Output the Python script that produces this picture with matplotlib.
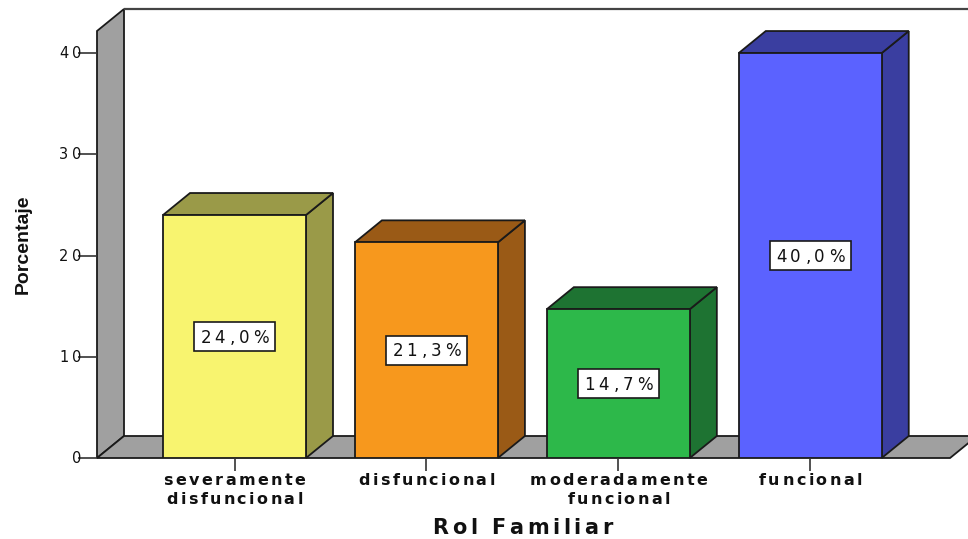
import matplotlib
matplotlib.use("Agg")
import matplotlib.pyplot as plt
from matplotlib.patches import Polygon, Rectangle
from matplotlib.font_manager import FontProperties, findfont, get_font
from matplotlib.transforms import Affine2D, ScaledTranslation

# === Data ===
categories = ["severamente\ndisfuncional", "disfuncional",
              "moderadamente\nfuncional", "funcional"]
porcentajes = [24.0, 21.3, 14.7, 40.0]
etiquetas = ["24,0%", "21,3%", "14,7%", "40,0%"]
y_ticks = [0, 10, 20, 30, 40]

front_colors = ["#F8F46F", "#F7981D", "#2DB84A", "#5B62FF"]
side_colors = ["#9A9A48", "#9A5A16", "#1E7332", "#3A3EA0"]
WALL = "#A0A0A0"
EDGE = "#1a1a1a"
WIDE = ["DejaVu Sans"]
ARIAL = ["Liberation Sans", "DejaVu Sans"]

# === Layout (3D look) ===
XMIN, XMAX = -0.7165, 3.822
YMAX = 44.35
DX, DY = 0.1407, 2.173      # depth offset of the fake 3D
BAR_W = 0.745
FLOOR_END = 3.7285

fig = plt.figure(figsize=(9.68, 5.39), dpi=100)
ax = fig.add_axes([97 / 968, 81 / 539, 871 / 968, 449 / 539])
ax.set_xlim(XMIN, XMAX)
ax.set_ylim(0, YMAX)
for sp in ax.spines.values():
    sp.set_visible(False)


def advances(s, fp):
    """Horizontal advance of each character, in pixels."""
    font = get_font(findfont(fp))
    font.set_size(fp.get_size_in_points(), fig.dpi)
    out = []
    for c in s:
        g = font.load_char(ord(c))
        out.append(g.linearHoriAdvance / 65536)
    return out


def spaced_text(x, y, s, size, weight="normal", track=0.15, align="center",
                dx_px=0.0, dy_px=0.0, transform=None, family=WIDE, zorder=10):
    """Draw s with extra letter spacing; (x, y) sits on the baseline."""
    fp = FontProperties(family=family, size=size, weight=weight)
    widths = advances(s, fp)
    gap = track * size * fig.dpi / 72
    total = sum(widths) + gap * (len(s) - 1)
    base = transform if transform is not None else ax.transData
    x0 = {"center": -total / 2, "right": -total, "left": 0.0}[align] + dx_px
    for c, w in zip(s, widths):
        tr = Affine2D().translate(round(x0), dy_px) + ScaledTranslation(x, y, base)
        ax.text(0, 0, c, transform=tr, fontproperties=fp, ha="left", va="baseline",
                color="#111111", clip_on=False, zorder=zorder)
        x0 += w + gap
    return total


def poly(pts, fc, z=2, lw=1.3):
    ax.add_patch(Polygon(pts, closed=True, facecolor=fc, edgecolor=EDGE,
                         linewidth=lw, joinstyle="miter", zorder=z, clip_on=False))


# === Walls ===
poly([(XMIN, 0), (XMIN + DX, DY), (XMIN + DX, YMAX), (XMIN, YMAX - DY)], WALL, z=1)
poly([(XMIN, 0), (FLOOR_END, 0), (FLOOR_END + DX, DY), (XMIN + DX, DY)], WALL, z=1)
ax.plot([XMIN + DX, XMAX + 0.1], [YMAX, YMAX], color="#444444", lw=1.6,
        clip_on=False, zorder=1, solid_capstyle="butt")

# === Bars ===
for i, (v, fc, sc) in enumerate(zip(porcentajes, front_colors, side_colors)):
    l, r = i - BAR_W / 2, i + BAR_W / 2
    poly([(r, 0), (r + DX, DY), (r + DX, v + DY), (r, v)], sc, z=3)
    poly([(l, v), (l + DX, v + DY), (r + DX, v + DY), (r, v)], sc, z=3)
    ax.add_patch(Rectangle((l, 0), BAR_W, v, facecolor=fc, edgecolor=EDGE,
                           linewidth=1.3, zorder=4))

# === Value labels in boxes ===
for i, (v, lab) in enumerate(zip(porcentajes, etiquetas)):
    w = spaced_text(i, v / 2, lab, 12, track=0.24, dy_px=-6, zorder=7)
    bw, bh = w + 12, 29
    ax.add_patch(Rectangle((-bw / 2, -bh / 2), bw, bh, facecolor="white",
                           edgecolor=EDGE, linewidth=1.2, zorder=6, clip_on=False,
                           transform=ScaledTranslation(i, v / 2, ax.transData)))

# === Axes ticks ===
ax.set_yticks(y_ticks)
ax.set_yticklabels([])
ax.tick_params(axis="y", direction="out", length=14, width=1.2, color="#333333")
for t in y_ticks:
    spaced_text(XMIN, t, str(t), 10.5, track=0.25, align="right", dx_px=-16, dy_px=-5)

ax.set_xticks(range(len(categories)))
ax.set_xticklabels([])
ax.tick_params(axis="x", direction="out", length=9, width=1.2, color="#333333")

xaxis_tr = ax.get_xaxis_transform()
for i, cat in enumerate(categories):
    for k, line in enumerate(cat.split("\n")):
        spaced_text(i, 0, line, 11.5, weight="bold", track=0.15,
                    dy_px=-(27 + 19 * k), transform=xaxis_tr)

spaced_text(522 / 968, 5 / 539, "Rol Familiar", 15, weight="bold", track=0.17,
            transform=fig.transFigure)
fig.text(23 / 968, 1 - 244 / 539, "Porcentaje", rotation=90, ha="center", va="center",
         fontsize=14, fontweight="bold", family=ARIAL, color="#111111")

fig.savefig("out.png", dpi=100)
